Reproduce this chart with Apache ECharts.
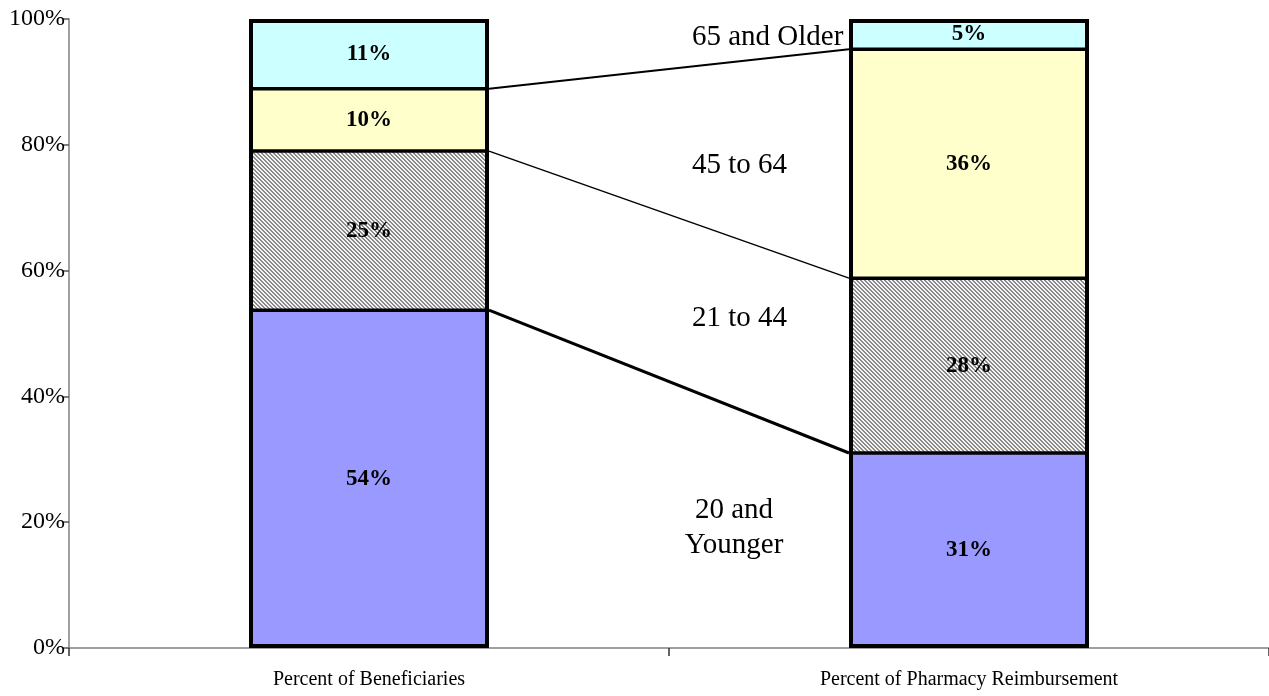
<!DOCTYPE html>
<html>
<head>
<meta charset="utf-8">
<script src="https://cdn.jsdelivr.net/npm/echarts@6/dist/echarts.min.js"></script>
<style>
  html, body { margin: 0; padding: 0; background: #fff; }
  #chart { width: 1269px; height: 696px; }
</style>
</head>
<body>
<div id="chart"></div>
<script>
// categories on the x axis
const categories = ['Percent of Beneficiaries', 'Percent of Pharmacy Reimbursement']
// age groups, bottom to top
const groups = ['20 and Younger', '21 to 44', '45 to 64', '65 and Older']
// share of each age group (%), bottom to top
const beneficiaries = [53.7, 25.3, 9.9, 11.1]
const reimbursement = [31.0, 27.8, 36.4, 4.8]
// y axis ticks
const yTicks = [0, 20, 40, 60, 80, 100]

const serif = '"Liberation Serif", "Times New Roman", serif'
const barFrac = 0.4

// fine diagonal hatch for the 21 to 44 group
function hatch() {
  let c = document.createElement('canvas')
  c.width = 4
  c.height = 4
  let ctx = c.getContext('2d')
  ctx.fillStyle = '#f4f4f4'
  ctx.fillRect(0, 0, 4, 4)
  ctx.fillStyle = '#8a8a8a'
  for (let x = 0; x < 4; x++) {
    for (let y = 0; y < 4; y++) {
      if (((x - y + 8) % 4) < 2) ctx.fillRect(x, y, 1, 1)
    }
  }
  return c
}

const fills = ['#9999ff', {image: hatch(), repeat: 'repeat'}, '#ffffcc', '#ccffff']

let chart = echarts.init(document.getElementById('chart'))

// stacked segments, no border (the outline and separators are drawn on top)
let barSeries = groups.map(function (g, i) {
  return {
    name: g,
    type: 'bar',
    stack: 'age',
    barWidth: (barFrac * 100) + '%',
    z: 2,
    itemStyle: {color: fills[i], borderWidth: 0},
    label: {
      show: true,
      position: 'inside',
      fontFamily: serif,
      fontWeight: 'bold',
      fontSize: 23,
      color: '#000',
      formatter: function (p) { return Math.round(p.value) + '%' }
    },
    data: [beneficiaries[i], reimbursement[i]]
  }
})

let totals = [
  beneficiaries.reduce(function (a, b) { return a + b }, 0),
  reimbursement.reduce(function (a, b) { return a + b }, 0)
]

// black outline round each whole bar
let outline = {
  type: 'bar',
  barWidth: (barFrac * 100) + '%',
  barGap: '-100%',
  z: 4,
  silent: true,
  itemStyle: {color: 'rgba(0,0,0,0)', borderColor: '#000', borderWidth: 4},
  data: totals
}

// separators inside the bars and connector lines between them
let connWidths = [3, 1.5, 2]
let lineSeries = []
let cumA = 0, cumB = 0
let h = barFrac / 2
for (let i = 0; i < groups.length - 1; i++) {
  cumA += beneficiaries[i]
  cumB += reimbursement[i]
  lineSeries.push({
    type: 'line', xAxisIndex: 1, symbol: 'none', silent: true, z: 5,
    lineStyle: {color: '#000', width: 3.5},
    data: [[-h, cumA], [h, cumA]]
  })
  lineSeries.push({
    type: 'line', xAxisIndex: 1, symbol: 'none', silent: true, z: 5,
    lineStyle: {color: '#000', width: 3.5},
    data: [[1 - h, cumB], [1 + h, cumB]]
  })
  lineSeries.push({
    type: 'line', xAxisIndex: 1, symbol: 'none', silent: true, z: 3,
    lineStyle: {color: '#000', width: connWidths[i]},
    data: [[h, cumA], [1 - h, cumB]]
  })
}

chart.setOption({
  animation: false,
  grid: {left: 69, right: 0, top: 19, bottom: 48},
  xAxis: [
    {
      type: 'category',
      data: categories,
      axisLine: {lineStyle: {color: '#808080', width: 1.5}},
      axisTick: {show: true, length: 8, lineStyle: {color: '#333', width: 1.5}},
      axisLabel: {fontFamily: serif, fontSize: 20, color: '#000', margin: 22}
    },
    {
      type: 'value',
      min: -0.5,
      max: 1.5,
      show: false
    }
  ],
  yAxis: {
    type: 'value',
    min: 0,
    max: 100,
    interval: 20,
    splitLine: {show: false},
    axisLine: {show: true, onZero: false, lineStyle: {color: '#808080', width: 1.5}},
    axisTick: {show: true, length: 6, lineStyle: {color: '#555', width: 1.5}},
    axisLabel: {
      fontFamily: serif,
      fontSize: 24,
      color: '#000',
      margin: 4,
      padding: [0, 0, 10, 0],
      formatter: function (v) { return yTicks.indexOf(v) >= 0 ? v + '%' : '' }
    }
  },
  series: barSeries.concat([outline], lineSeries),
  graphic: [
    {type: 'text', x: 692, y: 23, style: {text: '65 and Older', font: '29px ' + serif, fill: '#000'}},
    {type: 'text', x: 692, y: 151, style: {text: '45 to 64', font: '29px ' + serif, fill: '#000'}},
    {type: 'text', x: 692, y: 304, style: {text: '21 to 44', font: '29px ' + serif, fill: '#000'}},
    {type: 'text', x: 734, y: 493, style: {text: '20 and\nYounger', font: '29px ' + serif, fill: '#000', align: 'center', lineHeight: 35}}
  ]
})
</script>
</body>
</html>
